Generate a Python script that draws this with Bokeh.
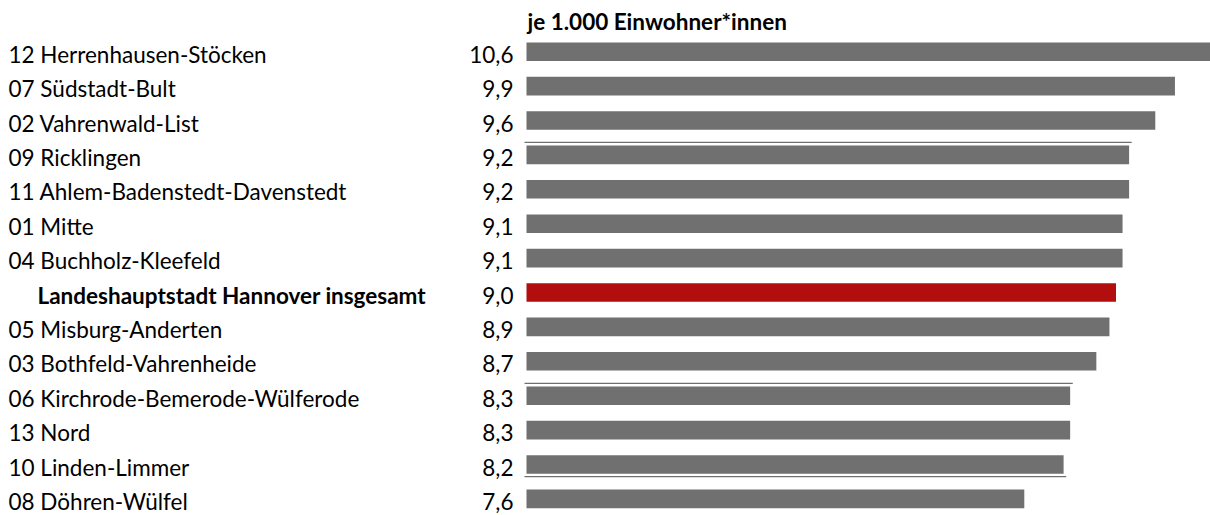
from bokeh.plotting import figure
from bokeh.models import Range1d, ColumnDataSource
from bokeh.core.properties import value
from bokeh.embed import file_html
from bokeh.resources import INLINE

categories = [
    "12 Herrenhausen-Stöcken",
    "07 Südstadt-Bult",
    "02 Vahrenwald-List",
    "09 Ricklingen",
    "11 Ahlem-Badenstedt-Davenstedt",
    "01 Mitte",
    "04 Buchholz-Kleefeld",
    "Landeshauptstadt Hannover insgesamt",
    "05 Misburg-Anderten",
    "03 Bothfeld-Vahrenheide",
    "06 Kirchrode-Bemerode-Wülferode",
    "13 Nord",
    "10 Linden-Limmer",
    "08 Döhren-Wülfel",
]
values = [10.6, 9.9, 9.6, 9.2, 9.2, 9.1, 9.1, 9.0, 8.9, 8.7, 8.3, 8.3, 8.2, 7.6]
value_labels = ["10,6", "9,9", "9,6", "9,2", "9,2", "9,1", "9,1", "9,0", "8,9", "8,7", "8,3", "8,3", "8,2", "7,6"]
title_text = "je 1.000 Einwohner*innen"
total_index = 7

GREY = "#707070"
RED = "#B30E0E"
FONT = "Lato"
FSIZE = "22.5px"

rows = list(range(len(categories)))
colors = [RED if i == total_index else GREY for i in rows]

W, H = 1210, 515
px_per_unit = 65.5
bar_x0_px = 526          # bar baseline from figure left
row0_px = 51.2           # center of first row from figure top
row_step = 34.4
text_drop = 2.5          # text middle below row center (px)

x_start = -bar_x0_px / px_per_unit
x_end = x_start + W / px_per_unit
y_top = -row0_px / row_step
y_bottom = y_top + H / row_step
td = text_drop / row_step

p = figure(width=W, height=H, output_backend="svg", toolbar_location=None,
           x_range=Range1d(x_start, x_end), y_range=Range1d(y_bottom, y_top),
           min_border=0, outline_line_color=None)
p.axis.visible = False
p.grid.visible = False
p.background_fill_color = "white"
p.border_fill_color = "white"

src = ColumnDataSource(dict(y=rows, yt=[r + td for r in rows], right=values, color=colors,
                            cat=categories, lab=value_labels))
p.hbar(y="y", left=0, right="right", height=0.54, fill_color="color", line_color=None, source=src)

# category labels (left aligned)
normal_idx = [i for i in rows if i != total_index]
p.text(x=[x_start + 8 / px_per_unit] * len(normal_idx), y=[i + td for i in normal_idx],
       text=[categories[i] for i in normal_idx],
       text_font=value(FONT), text_font_size=FSIZE, text_color="black",
       text_align="left", text_baseline="middle")
p.text(x=[x_start + 37 / px_per_unit], y=[total_index + td], text=[categories[total_index]],
       text_font=value(FONT), text_font_size=FSIZE, text_font_style="bold", text_color="black",
       text_align="left", text_baseline="middle")

# value labels
p.text(x=-13 / px_per_unit, y="yt", text="lab", source=src,
       text_font=value(FONT), text_font_size=FSIZE, text_color="black",
       text_align="right", text_baseline="middle")

# title
p.text(x=[1 / px_per_unit], y=[y_top + 21 / row_step], text=[title_text],
       text_font=value(FONT), text_font_size=FSIZE, text_font_style="bold", text_color="black",
       text_align="left", text_baseline="middle")

# thin separator lines seen in the reference (adjacent to some bars)
sep_rows = [3, 10, 12]
sep_offsets = [-0.365, -0.36, 0.35]
sep_y = [r + o for r, o in zip(sep_rows, sep_offsets)]
sep_x1 = [values[r] + 0.04 for r in sep_rows]
p.segment(x0=[-0.03] * 3, y0=sep_y, x1=sep_x1, y1=sep_y, line_color=GREY, line_width=1.2)

open("out.html", "w").write(file_html(p, INLINE))
